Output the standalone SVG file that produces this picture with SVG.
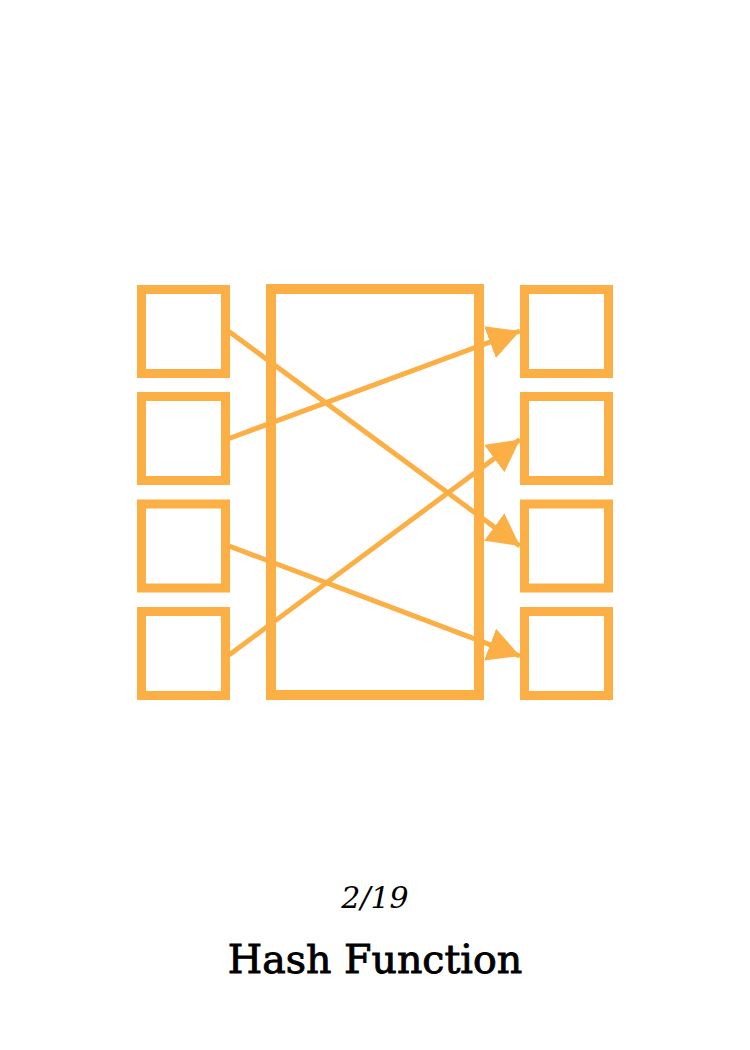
<svg xmlns="http://www.w3.org/2000/svg" width="750" height="1050" viewBox="0 0 750 1050">
  <style>
    .box { fill: none; stroke: #fcaf45; stroke-width: 9; }
    .hash { fill: none; stroke: #fcaf45; stroke-width: 10; }
    .edge { fill: none; stroke: #fcaf45; stroke-width: 5; }
    .page { font-family: "DejaVu Serif", "Liberation Serif", serif; font-style: italic; font-size: 30px; fill: #000; }
    .title { font-family: "DejaVu Serif", "Liberation Serif", serif; font-size: 39.5px; fill: #000; stroke: #000; stroke-width: 0.9; }
  </style>
  <defs>
    <marker id="arrow" markerUnits="userSpaceOnUse" markerWidth="34" markerHeight="36" refX="32" refY="17" orient="auto">
      <path d="M0,0 L32,17 L0,34 z" fill="#fcaf45"/>
    </marker>
  </defs>
  <rect width="750" height="1050" fill="#ffffff"/>
  <g id="hash-function">
    <rect class="hash" x="271" y="289" width="208" height="406"/>
  </g>
  <g id="input-1"><rect class="box" x="141.5" y="289.5" width="84" height="84"/></g>
  <g id="input-2"><rect class="box" x="141.5" y="396.5" width="84" height="84"/></g>
  <g id="input-3"><rect class="box" x="141.5" y="504" width="84" height="84"/></g>
  <g id="input-4"><rect class="box" x="141.5" y="611.5" width="84" height="84"/></g>
  <g id="output-1"><rect class="box" x="524.5" y="289.5" width="84" height="84"/></g>
  <g id="output-2"><rect class="box" x="524.5" y="396.5" width="84" height="84"/></g>
  <g id="output-3"><rect class="box" x="524.5" y="504" width="84" height="84"/></g>
  <g id="output-4"><rect class="box" x="524.5" y="611.5" width="84" height="84"/></g>
  <g id="connectors">
    <line class="edge" x1="229" y1="331.5" x2="520" y2="546" marker-end="url(#arrow)"/>
    <line class="edge" x1="229" y1="438.5" x2="520" y2="331" marker-end="url(#arrow)"/>
    <line class="edge" x1="229" y1="546" x2="520" y2="656" marker-end="url(#arrow)"/>
    <line class="edge" x1="229" y1="655" x2="520" y2="439.5" marker-end="url(#arrow)"/>
  </g>
  <text class="page" x="375" y="908" text-anchor="middle">2/19</text>
  <text class="title" x="375" y="973" text-anchor="middle">Hash Function</text>
</svg>
